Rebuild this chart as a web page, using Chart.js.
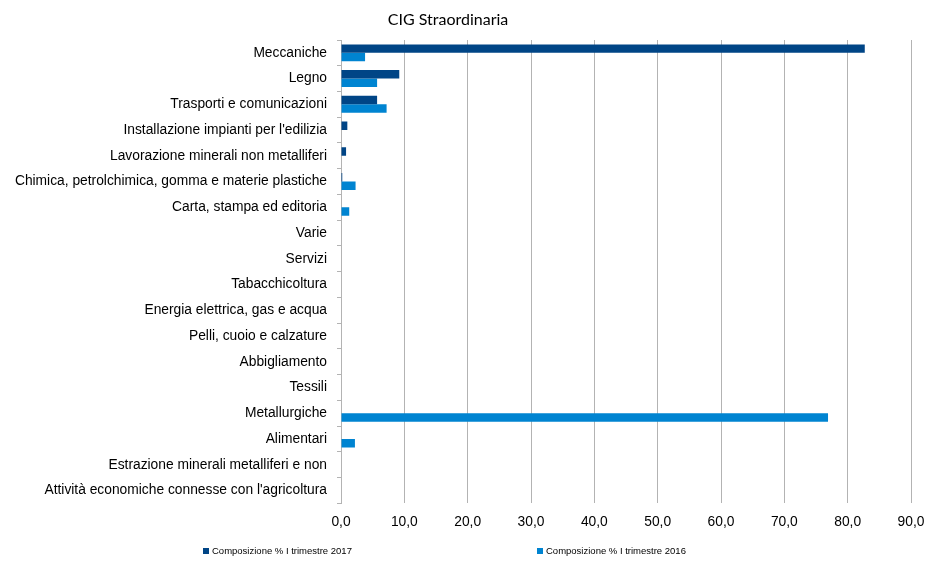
<!DOCTYPE html>
<html>
<head>
<meta charset="utf-8">
<script src="https://cdn.jsdelivr.net/npm/chart.js@4.4.0/dist/chart.umd.min.js"></script>
<style>
html,body{margin:0;padding:0;background:#fff;}
#wrap{width:927px;height:563px;position:relative;}
</style>
</head>
<body>
<div id="wrap"><canvas id="c"></canvas></div>
<script>
const TITLE = "CIG Straordinaria";
const categories = [
  "Meccaniche",
  "Legno",
  "Trasporti e comunicazioni",
  "Installazione impianti per l'edilizia",
  "Lavorazione minerali non metalliferi",
  "Chimica, petrolchimica, gomma e materie plastiche",
  "Carta, stampa ed editoria",
  "Varie",
  "Servizi",
  "Tabacchicoltura",
  "Energia elettrica, gas e acqua",
  "Pelli, cuoio e calzature",
  "Abbigliamento",
  "Tessili",
  "Metallurgiche",
  "Alimentari",
  "Estrazione minerali metalliferi e non",
  "Attività economiche connesse con l'agricoltura"
];
const seriesNames = ["Composizione % I trimestre 2017", "Composizione % I trimestre 2016"];
const values2017 = [82.7, 9.2, 5.7, 1.0, 0.8, 0.2, 0, 0, 0, 0, 0, 0, 0, 0, 0, 0, 0, 0];
const values2016 = [3.8, 5.7, 7.2, 0, 0, 2.3, 1.3, 0, 0, 0, 0, 0, 0, 0, 76.9, 2.2, 0, 0];
const xTicks = [0, 10, 20, 30, 40, 50, 60, 70, 80, 90];
const colors = ["#004586", "#0084d1"];

const overlay = {
  id: 'overlay',
  afterDraw(chart) {
    const ctx = chart.ctx;
    ctx.save();
    ctx.fillStyle = '#000';
    ctx.font = '16px Lato, "Liberation Sans", sans-serif';
    ctx.textAlign = 'center';
    ctx.textBaseline = 'middle';
    ctx.fillText(TITLE, 448, 20);
    // legend
    ctx.font = '9.5px "Liberation Sans", Arial, sans-serif';
    ctx.textAlign = 'left';
    const starts = [203, 537];
    const y = 551;
    chart.data.datasets.forEach((ds, i) => {
      ctx.fillStyle = ds.backgroundColor;
      ctx.fillRect(starts[i], y - 3, 6, 6);
      ctx.fillStyle = '#000';
      ctx.fillText(ds.label, starts[i] + 9, y);
    });
    ctx.restore();
  }
};

new Chart(document.getElementById('c'), {
  type: 'bar',
  data: {
    labels: categories,
    datasets: [
      { label: seriesNames[0], data: values2017, backgroundColor: colors[0], categoryPercentage: 0.66, barPercentage: 1.0 },
      { label: seriesNames[1], data: values2016, backgroundColor: colors[1], categoryPercentage: 0.66, barPercentage: 1.0 }
    ]
  },
  options: {
    indexAxis: 'y',
    responsive: true,
    maintainAspectRatio: false,
    animation: false,
    layout: { padding: { top: 40, right: 0, bottom: 23, left: 0 } },
    plugins: {
      legend: { display: false },
      title: { display: false },
      tooltip: { enabled: false }
    },
    scales: {
      x: {
        min: 0, max: 90,
        afterBuildTicks(scale) { scale.ticks = xTicks.map(v => ({ value: v })); },
        afterFit(scale) { scale.paddingRight = 16; scale.paddingLeft = 0; },
        ticks: {
          color: '#000',
          font: { family: '"Liberation Sans", Arial, sans-serif', size: 13.8 },
          padding: 10,
          callback: v => v.toFixed(1).replace('.', ',')
        },
        grid: { color: '#b3b3b3', drawTicks: false },
        border: { display: false }
      },
      y: {
        afterFit(scale) { scale.width = 341; },
        ticks: {
          color: '#000',
          font: { family: '"Liberation Sans", Arial, sans-serif', size: 13.8 },
          padding: 10,
          autoSkip: false
        },
        grid: { drawOnChartArea: false, drawTicks: true, tickLength: 4, color: '#b3b3b3', offset: true },
        border: { display: true, color: '#b3b3b3' }
      }
    }
  },
  plugins: [overlay]
});
</script>
</body>
</html>
